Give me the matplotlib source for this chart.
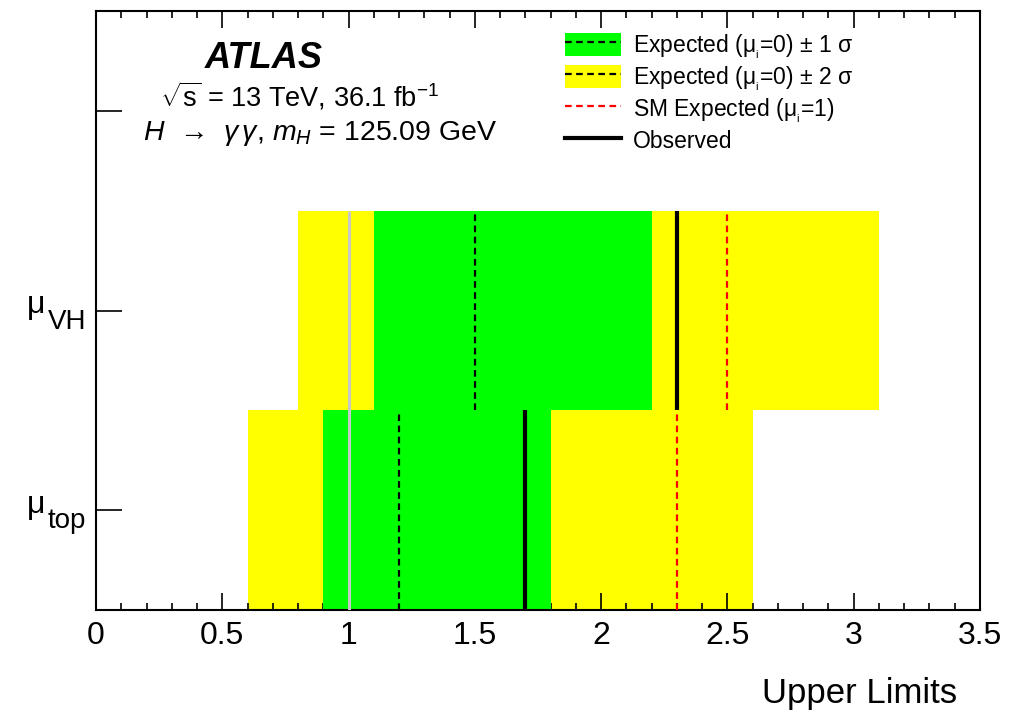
#!/usr/bin/env python3
"""Upper limits on mu_top and mu_VH, H -> gamma gamma, ATLAS 36.1 fb-1."""

import matplotlib
matplotlib.use("Agg")
import matplotlib.pyplot as plt
from matplotlib.lines import Line2D
from matplotlib.patches import Patch
from matplotlib.ticker import MultipleLocator

plt.rcParams["font.family"] = ["Liberation Sans", "DejaVu Sans"]
plt.rcParams["mathtext.fontset"] = "custom"
plt.rcParams["mathtext.rm"] = "Liberation Sans"
plt.rcParams["mathtext.it"] = "Liberation Sans:italic"
plt.rcParams["mathtext.bf"] = "Liberation Sans:bold"

# one row per parameter, bottom to top
param_symbol = ["μ", "μ"]
param_sub = ["top", "VH"]
exp_2s_lo = [0.6, 0.8]
exp_2s_hi = [2.6, 3.1]
exp_1s_lo = [0.9, 1.1]
exp_1s_hi = [1.8, 2.2]
exp_median = [1.2, 1.5]
observed = [1.7, 2.3]
sm_expected = [2.3, 2.5]
sm_reference = 1.0

YELLOW = "#ffff00"
GREEN = "#00ff00"

fig = plt.figure(figsize=(10.34, 7.13), dpi=100)
ax = fig.add_axes([96 / 1034, 1 - 610 / 713, 884 / 1034, 599 / 713])

n = len(param_sub)
rows = list(range(n))
ax.barh(rows, [h - l for l, h in zip(exp_2s_lo, exp_2s_hi)], left=exp_2s_lo,
        height=1, align="edge", color=YELLOW, linewidth=0, zorder=1)
ax.barh(rows, [h - l for l, h in zip(exp_1s_lo, exp_1s_hi)], left=exp_1s_lo,
        height=1, align="edge", color=GREEN, linewidth=0, zorder=2)
ax.vlines(sm_reference, 0, n, color="#c8c8c8", linewidth=2.2, zorder=3)
for i in rows:
    ax.vlines(exp_median[i], i, i + 1, color="black", linestyle=(0, (3, 2)),
              linewidth=1.6, zorder=4)
    ax.vlines(sm_expected[i], i, i + 1, color="red", linestyle=(0, (3, 2)),
              linewidth=1.6, zorder=4)
    ax.vlines(observed[i], i, i + 1, color="black", linewidth=3.0, zorder=5)

ax.set_xlim(0, 3.5)
ax.set_ylim(0, n + 1)
ax.xaxis.set_major_locator(MultipleLocator(0.5))
ax.xaxis.set_minor_locator(MultipleLocator(0.1))
ax.set_xticks([0, 0.5, 1, 1.5, 2, 2.5, 3, 3.5])
ax.set_xticklabels(["0", "0.5", "1", "1.5", "2", "2.5", "3", "3.5"], fontsize=23)
ax.set_yticks([i + 0.5 for i in range(n + 1)])
ax.set_yticklabels([])
ax.tick_params(axis="x", which="major", direction="in", length=12, width=1.2,
               top=True, pad=8)
ax.tick_params(axis="x", which="minor", direction="in", length=5, width=1.2,
               top=True)
ax.tick_params(axis="y", which="major", direction="in", length=19, width=1.2)
for s in ax.spines.values():
    s.set_linewidth(1.5)

for i in rows:
    ax.annotate(param_symbol[i], xy=(0, i + 0.5), xycoords=ax.get_yaxis_transform(),
                xytext=(-50, 4), textcoords="offset points", fontsize=23,
                ha="left", va="center")
    ax.annotate(param_sub[i], xy=(0, i + 0.5), xycoords=ax.get_yaxis_transform(),
                xytext=(-34.5, -8), textcoords="offset points", fontsize=20,
                ha="left", va="center")

fig.text(957 / 1034, 1 - 693 / 713, "Upper Limits", fontsize=25, ha="right", va="center")

fig.text(264 / 1034, 1 - 58 / 713, "ATLAS", fontsize=26, fontweight="bold",
         fontstyle="italic", ha="center", va="center")
fig.text(160 / 1034, 1 - 96 / 713,
         r"$\sqrt{\mathregular{s}}$ = 13 TeV, 36.1 fb$^{\mathregular{-1}}$",
         fontsize=19.5, ha="left", va="center")
fig.text(143 / 1034, 1 - 133 / 713,
         r"$H$  →  $\gamma\,\gamma$, $m_{H}$ = 125.09 GeV",
         fontsize=20.5, ha="left", va="center")

handles = [
    (Patch(facecolor=GREEN, edgecolor="none"),
     Line2D([], [], color="black", linestyle=(0, (3, 2)), linewidth=1.6)),
    (Patch(facecolor=YELLOW, edgecolor="none"),
     Line2D([], [], color="black", linestyle=(0, (3, 2)), linewidth=1.6)),
    Line2D([], [], color="red", linestyle=(0, (3, 2)), linewidth=1.6),
    Line2D([], [], color="black", linewidth=3.0),
]
labels = [
    r"Expected ($\mathregular{\mu_{_i}}$=0) ± 1 σ",
    r"Expected ($\mathregular{\mu_{_i}}$=0) ± 2 σ",
    r"SM Expected ($\mathregular{\mu_{_i}}$=1)",
    "Observed",
]
fig.legend(handles, labels, loc="upper left", bbox_to_anchor=(565 / 1034, 1 - 32 / 713),
           frameon=False, fontsize=16.5, borderpad=0, borderaxespad=0,
           handlelength=2.45, handleheight=1.2, handletextpad=0.5, labelspacing=0.15)

fig.savefig("out.png", dpi=100)
